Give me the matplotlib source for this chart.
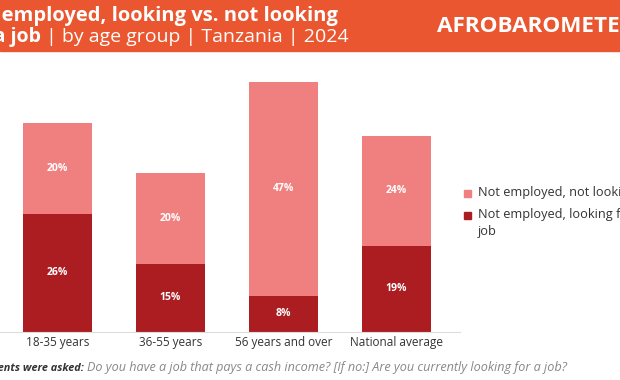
import matplotlib.pyplot as plt
from matplotlib.patches import Rectangle

categories = ['18-35 years', '36-55 years', '56 years and over', 'National average']
looking = [26, 15, 8, 19]
not_looking = [20, 20, 47, 24]
legend_labels = ['Not employed, not looking for a job', 'Not employed, looking for a\njob']

dark = '#AC1D22'
light = '#F07F80'
orange = '#E9562F'

W, H = 620, 380
plt.rcParams['font.family'] = ['Open Sans', 'DejaVu Sans']

fig = plt.figure(figsize=(W / 100, H / 100), dpi=100)


def fx(px):
    return px / W


def fy(py):
    return 1 - py / H


# header band
fig.patches.append(Rectangle((0, fy(51)), 1, 51 / H, transform=fig.transFigure,
                             color=orange, zorder=0))

fig.text(fx(338), fy(16), 'Not employed, looking vs. not looking', ha='right', va='center',
         color='white', fontsize=14.5, fontweight='bold')
t2 = fig.text(fx(349), fy(37), ' | by age group | Tanzania | 2024', ha='right', va='center',
              color='white', fontsize=14)
fig.canvas.draw()
bb = t2.get_window_extent()
fig.text(bb.x0 / W, fy(37), 'for a job', ha='right', va='center',
         color='white', fontsize=14, fontweight='bold')
fig.text(fx(437), fy(26), 'AFROBAROMETER', ha='left', va='center',
         color='white', fontsize=16.2, fontweight='bold')

# chart
ax = fig.add_axes([0, fy(332), 460 / W, 273 / H])
x = range(len(categories))
ax.bar(x, looking, width=0.61, color=dark)
ax.bar(x, not_looking, bottom=looking, width=0.61, color=light)
for i in x:
    ax.text(i, looking[i] / 2, f'{looking[i]}%', ha='center', va='center',
            color='white', fontsize=7.5, fontweight='bold')
    ax.text(i, looking[i] + not_looking[i] / 2, f'{not_looking[i]}%', ha='center', va='center',
            color='white', fontsize=7.5, fontweight='bold')
ax.set_xlim(-0.509, 3.562)
ax.set_ylim(0, 60)
ax.set_yticks([])
ax.set_xticks(list(x))
ax.set_xticklabels(categories, fontsize=8.5, color='#333333')
ax.tick_params(axis='x', length=0, pad=3)
for s in ['top', 'right', 'left']:
    ax.spines[s].set_visible(False)
ax.spines['bottom'].set_color('#dddddd')
ax.spines['bottom'].set_linewidth(0.8)

# legend
for col, lab, py in [(light, legend_labels[0], 193), (dark, legend_labels[1], 215)]:
    fig.patches.append(Rectangle((fx(464), fy(py + 4)), 7 / W, 7 / H,
                                 transform=fig.transFigure, color=col))
    fig.text(fx(478), fy(py - 7), lab, ha='left', va='top', fontsize=9.2,
             color='#333333', linespacing=1.45)

# footnote
fig.text(fx(84), fy(368), 'Respondents were asked:', ha='right', va='center',
         fontsize=7.8, fontweight='bold', style='italic', color='#333333')
fig.text(fx(87), fy(368), 'Do you have a job that pays a cash income? [If no:] Are you currently looking for a job?',
         ha='left', va='center', fontsize=9.1, style='italic', color='#888888')

fig.savefig('out.png', dpi=100)
